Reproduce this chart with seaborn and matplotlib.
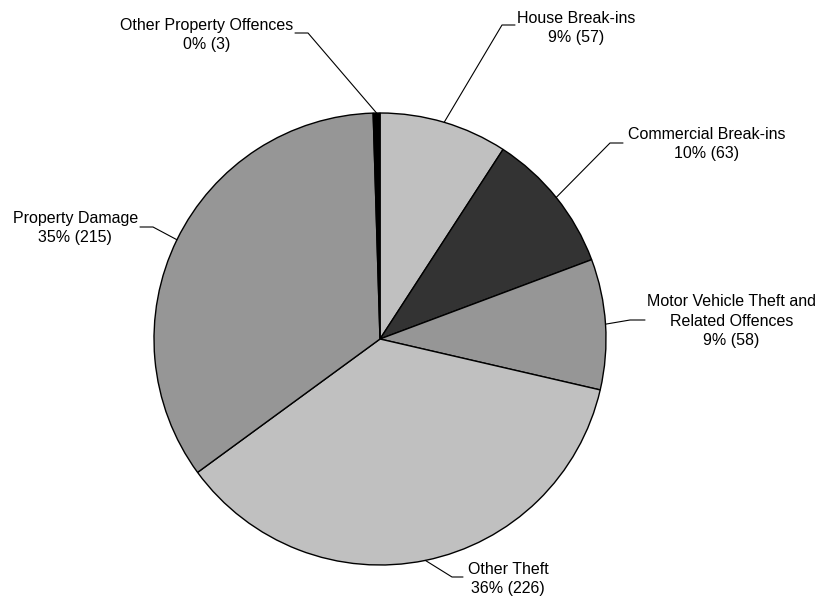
import numpy as np
import matplotlib
matplotlib.use("Agg")
import matplotlib.pyplot as plt
import seaborn as sns

categories = ["House Break-ins", "Commercial Break-ins",
              "Motor Vehicle Theft and\nRelated Offences", "Other Theft",
              "Property Damage", "Other Property Offences"]
counts = [57, 63, 58, 226, 215, 3]
colors = ["#C0C0C0", "#333333", "#969696", "#C0C0C0", "#969696", "#000000"]

sns.set_theme(style="white")
plt.rcParams['font.family'] = ['Liberation Sans', 'DejaVu Sans']

W, H = 823, 596
fig = plt.figure(figsize=(W / 100, H / 100), dpi=100)
ax = fig.add_axes([0, 0, 1, 1])

cx, cy, r = 380, H - 339, 226
wedges, _ = ax.pie(counts, colors=colors, startangle=90, counterclock=False,
                   center=(cx, cy), radius=r, frame=True,
                   wedgeprops=dict(edgecolor='black', linewidth=1.0))
ax.set_xlim(0, W)
ax.set_ylim(0, H)
ax.set_aspect('equal')
ax.axis('off')

# label layout in pixel coords from top:
# (elbow x, elbow y, segment end x, text anchor x, text centre y, ha)
layout = [
    (502, 25, 515, 517, 28, 'left'),
    (610, 143, 623, 628, 144, 'left'),
    (630, 320, 645, 647, 321, 'left'),
    (452, 577, 463, 468, 579, 'left'),
    (153, 227, 140, 138, 228, 'right'),
    (308, 33, 295, 293, 35, 'right'),
]

total = sum(counts)
for w, cat, n, (ex, ey, tx, lx, ly, ha) in zip(wedges, categories, counts, layout):
    mid = np.deg2rad((w.theta1 + w.theta2) / 2)
    px = cx + r * np.cos(mid)
    py = cy + r * np.sin(mid)
    ax.plot([px, ex, tx], [py, H - ey, H - ey], color='black', lw=0.8)
    pct = round(100 * n / total)
    ax.text(lx, H - ly, f"{cat}\n{pct}% ({n})", ha=ha, va='center',
            multialignment='center', fontsize=11.5, color='black', linespacing=1.38)

fig.savefig("out.png", dpi=100, facecolor='white')
